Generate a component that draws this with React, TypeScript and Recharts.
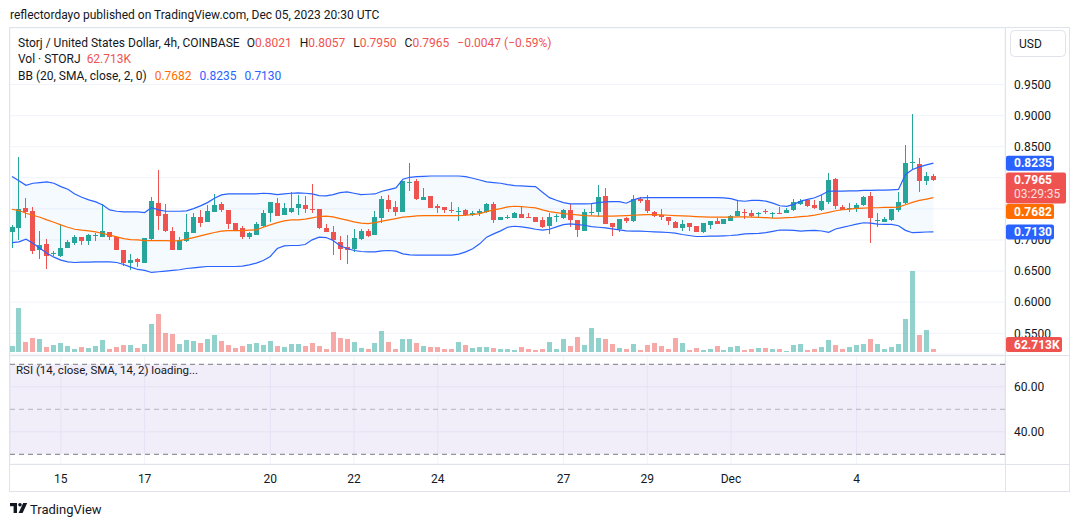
import React from 'react';
import {
  ComposedChart,
  Bar,
  Line,
  Area,
  XAxis,
  YAxis,
  CartesianGrid,
  ReferenceLine,
  ReferenceArea,
} from 'recharts';

// STORJ/USD 4h candles, Nov 13 20:00 -> Dec 05 20:00 (UTC), one entry per candle
const opens = [
  0.7136, 0.7200, 0.7516, 0.7473, 0.6842, 0.6938, 0.6783, 0.6740, 0.6879, 0.6959,
  0.7040, 0.6986, 0.7072, 0.7050, 0.7125, 0.7056, 0.6842, 0.6638, 0.6702, 0.6638,
  0.7018, 0.7596, 0.7419, 0.7146, 0.6842, 0.6991, 0.7120, 0.7371, 0.7296, 0.7457,
  0.7580, 0.7484, 0.7275, 0.7189, 0.7056, 0.7088, 0.7227, 0.7441, 0.7596, 0.7403,
  0.7446, 0.7516, 0.7569, 0.7500, 0.7494, 0.7195, 0.7130, 0.6964, 0.6890, 0.6858,
  0.7023, 0.7146, 0.7088, 0.7355, 0.7644, 0.7532, 0.7457, 0.7922, 0.7949, 0.7649,
  0.7708, 0.7548, 0.7526, 0.7484, 0.7457, 0.7478, 0.7398, 0.7430, 0.7446, 0.7580,
  0.7328, 0.7350, 0.7360, 0.7419, 0.7371, 0.7371, 0.7323, 0.7221, 0.7376, 0.7360,
  0.7484, 0.7323, 0.7152, 0.7441, 0.7451, 0.7708, 0.7275, 0.7184, 0.7355, 0.7307,
  0.7665, 0.7644, 0.7457, 0.7403, 0.7366, 0.7296, 0.7200, 0.7270, 0.7227, 0.7130,
  0.7243, 0.7307, 0.7264, 0.7307, 0.7387, 0.7451, 0.7430, 0.7416, 0.7459, 0.7422,
  0.7438, 0.7432, 0.7475, 0.7577, 0.7646, 0.7556, 0.7486, 0.7609, 0.7973, 0.7523,
  0.7507, 0.7513, 0.7556, 0.7700, 0.7309, 0.7288, 0.7315, 0.7475, 0.7588, 0.8235,
  0.8214, 0.7941, 0.8021,
];

const highs = [
  0.7243, 0.8340, 0.7670, 0.7537, 0.7146, 0.7018, 0.6825, 0.7253, 0.7000, 0.7082,
  0.7050, 0.7093, 0.7120, 0.7574, 0.7130, 0.7066, 0.6845, 0.6777, 0.6713, 0.7034,
  0.7687, 0.8125, 0.7580, 0.7205, 0.7045, 0.7419, 0.7430, 0.7478, 0.7564, 0.7740,
  0.7617, 0.7486, 0.7278, 0.7227, 0.7125, 0.7296, 0.7484, 0.7617, 0.7676, 0.7596,
  0.7767, 0.7724, 0.7708, 0.7901, 0.7497, 0.7259, 0.7221, 0.7066, 0.7082, 0.7173,
  0.7173, 0.7173, 0.7473, 0.7713, 0.7724, 0.7623, 0.7949, 0.8238, 0.7986, 0.7831,
  0.7713, 0.7574, 0.7528, 0.7612, 0.7532, 0.7494, 0.7473, 0.7505, 0.7601, 0.7612,
  0.7373, 0.7403, 0.7451, 0.7526, 0.7435, 0.7373, 0.7366, 0.7441, 0.7414, 0.7494,
  0.7574, 0.7325, 0.7494, 0.7580, 0.7885, 0.7831, 0.7277, 0.7339, 0.7376, 0.7724,
  0.7692, 0.7724, 0.7473, 0.7500, 0.7368, 0.7307, 0.7323, 0.7272, 0.7229, 0.7280,
  0.7307, 0.7350, 0.7339, 0.7403, 0.7644, 0.7505, 0.7486, 0.7449, 0.7491, 0.7449,
  0.7529, 0.7507, 0.7657, 0.7663, 0.7657, 0.7646, 0.7727, 0.8074, 0.7989, 0.7556,
  0.7598, 0.7593, 0.7700, 0.7764, 0.7438, 0.7374, 0.7491, 0.7764, 0.8519, 0.9032,
  0.8326, 0.8085, 0.8057,
];

const lows = [
  0.6868, 0.7000, 0.7350, 0.6777, 0.6697, 0.6537, 0.6735, 0.6724, 0.6868, 0.6927,
  0.6922, 0.6922, 0.6980, 0.7045, 0.7000, 0.6842, 0.6574, 0.6510, 0.6558, 0.6628,
  0.7000, 0.7163, 0.7136, 0.6831, 0.6831, 0.6975, 0.7109, 0.7216, 0.7291, 0.7451,
  0.7457, 0.7173, 0.7163, 0.7013, 0.7023, 0.7082, 0.7205, 0.7291, 0.7387, 0.7398,
  0.7430, 0.7403, 0.7441, 0.7430, 0.7184, 0.7125, 0.6761, 0.6681, 0.6617, 0.6799,
  0.6997, 0.7040, 0.7082, 0.7280, 0.7457, 0.7393, 0.7451, 0.7794, 0.7644, 0.7644,
  0.7510, 0.7430, 0.7430, 0.7441, 0.7312, 0.7387, 0.7387, 0.7380, 0.7441, 0.7280,
  0.7325, 0.7339, 0.7355, 0.7355, 0.7355, 0.7291, 0.7195, 0.7104, 0.7296, 0.7344,
  0.7216, 0.7056, 0.7146, 0.7403, 0.7376, 0.7259, 0.7072, 0.7136, 0.7270, 0.7291,
  0.7601, 0.7430, 0.7371, 0.7323, 0.7248, 0.7189, 0.7152, 0.7152, 0.7130, 0.7120,
  0.7184, 0.7259, 0.7259, 0.7302, 0.7382, 0.7344, 0.7374, 0.7358, 0.7411, 0.7358,
  0.7411, 0.7427, 0.7459, 0.7561, 0.7534, 0.7502, 0.7465, 0.7572, 0.7502, 0.7475,
  0.7443, 0.7449, 0.7550, 0.6951, 0.7208, 0.7283, 0.7313, 0.7443, 0.7582, 0.8133,
  0.7764, 0.7882, 0.7950,
];

const closes = [
  0.7205, 0.7494, 0.7451, 0.6830, 0.6916, 0.6745, 0.6793, 0.6879, 0.6970, 0.7050,
  0.6991, 0.7077, 0.7082, 0.7146, 0.7045, 0.6847, 0.6638, 0.6681, 0.6654, 0.7034,
  0.7628, 0.7387, 0.7152, 0.6842, 0.7000, 0.7130, 0.7371, 0.7280, 0.7467, 0.7564,
  0.7484, 0.7264, 0.7168, 0.7056, 0.7109, 0.7259, 0.7435, 0.7612, 0.7393, 0.7516,
  0.7516, 0.7580, 0.7500, 0.7489, 0.7200, 0.7130, 0.7007, 0.6863, 0.6847, 0.7034,
  0.7146, 0.7066, 0.7371, 0.7660, 0.7500, 0.7451, 0.7949, 0.7933, 0.7660, 0.7692,
  0.7521, 0.7521, 0.7484, 0.7473, 0.7467, 0.7398, 0.7441, 0.7473, 0.7580, 0.7328,
  0.7371, 0.7376, 0.7435, 0.7360, 0.7360, 0.7296, 0.7211, 0.7371, 0.7387, 0.7484,
  0.7323, 0.7163, 0.7451, 0.7451, 0.7692, 0.7264, 0.7205, 0.7339, 0.7307, 0.7660,
  0.7628, 0.7473, 0.7393, 0.7366, 0.7312, 0.7200, 0.7259, 0.7211, 0.7136, 0.7270,
  0.7302, 0.7264, 0.7339, 0.7387, 0.7467, 0.7430, 0.7380, 0.7427, 0.7443, 0.7432,
  0.7427, 0.7475, 0.7604, 0.7620, 0.7539, 0.7513, 0.7620, 0.7957, 0.7539, 0.7486,
  0.7518, 0.7556, 0.7684, 0.7352, 0.7320, 0.7331, 0.7491, 0.7604, 0.8230, 0.8246,
  0.7946, 0.8021, 0.7965,
];

// Volume in thousands of STORJ
const volumes = [
  125, 920, 209, 293, 272, 105, 146, 188, 125, 63,
  105, 84, 125, 251, 63, 105, 146, 146, 84, 167,
  585, 794, 397, 376, 167, 251, 230, 188, 272, 355,
  230, 146, 84, 125, 167, 188, 146, 230, 125, 105,
  167, 167, 125, 188, 125, 63, 418, 293, 272, 209,
  84, 63, 188, 439, 209, 63, 272, 272, 188, 125,
  105, 105, 63, 63, 209, 146, 84, 105, 105, 84,
  63, 63, 42, 105, 63, 42, 63, 209, 63, 272,
  125, 314, 146, 502, 293, 272, 167, 84, 63, 167,
  42, 146, 188, 125, 63, 293, 188, 42, 84, 42,
  63, 125, 42, 105, 125, 42, 63, 84, 84, 63,
  63, 21, 146, 167, 42, 63, 105, 251, 146, 63,
  105, 146, 167, 272, 167, 63, 105, 167, 690, 1693,
  355, 460, 62.713,
];

// Bollinger Bands (20, SMA, close, 2)
const bbUpper = [
  0.8019, 0.7954, 0.7879, 0.7912, 0.7922, 0.7933, 0.7912, 0.7858, 0.7815, 0.7740,
  0.7687, 0.7644, 0.7612, 0.7564, 0.7484, 0.7462, 0.7451, 0.7451, 0.7451, 0.7441,
  0.7521, 0.7484, 0.7462, 0.7462, 0.7462, 0.7468, 0.7505, 0.7548, 0.7601, 0.7671,
  0.7724, 0.7740, 0.7740, 0.7740, 0.7740, 0.7740, 0.7751, 0.7746, 0.7730, 0.7740,
  0.7751, 0.7756, 0.7751, 0.7740, 0.7714, 0.7708, 0.7730, 0.7762, 0.7772, 0.7751,
  0.7730, 0.7735, 0.7740, 0.7783, 0.7810, 0.7837, 0.7976, 0.8008, 0.8019, 0.8024,
  0.8029, 0.8029, 0.8029, 0.8029, 0.8029, 0.8019, 0.7992, 0.7965, 0.7933, 0.7922,
  0.7912, 0.7890, 0.7874, 0.7869, 0.7863, 0.7858, 0.7767, 0.7681, 0.7639, 0.7601,
  0.7580, 0.7580, 0.7580, 0.7585, 0.7601, 0.7612, 0.7617, 0.7617, 0.7591, 0.7644,
  0.7676, 0.7681, 0.7681, 0.7681, 0.7681, 0.7681, 0.7681, 0.7681, 0.7681, 0.7681,
  0.7681, 0.7681, 0.7676, 0.7665, 0.7633, 0.7623, 0.7636, 0.7636, 0.7625, 0.7593,
  0.7550, 0.7540, 0.7572, 0.7625, 0.7652, 0.7679, 0.7727, 0.7786, 0.7786, 0.7786,
  0.7791, 0.7791, 0.7797, 0.7797, 0.7802, 0.7802, 0.7807, 0.7813, 0.8053, 0.8133,
  0.8176, 0.8208, 0.8235,
];

const bbBasis = [
  0.7494, 0.7473, 0.7430, 0.7398, 0.7366, 0.7323, 0.7286, 0.7243, 0.7205, 0.7173,
  0.7157, 0.7146, 0.7130, 0.7104, 0.7077, 0.7050, 0.7023, 0.7007, 0.7002, 0.6991,
  0.6991, 0.6991, 0.6991, 0.6986, 0.6991, 0.7013, 0.7039, 0.7066, 0.7093, 0.7120,
  0.7141, 0.7152, 0.7152, 0.7152, 0.7157, 0.7163, 0.7205, 0.7243, 0.7280, 0.7307,
  0.7323, 0.7323, 0.7334, 0.7355, 0.7377, 0.7382, 0.7371, 0.7344, 0.7318, 0.7291,
  0.7270, 0.7264, 0.7280, 0.7302, 0.7323, 0.7344, 0.7366, 0.7377, 0.7387, 0.7393,
  0.7393, 0.7393, 0.7393, 0.7393, 0.7393, 0.7398, 0.7409, 0.7425, 0.7457, 0.7484,
  0.7505, 0.7532, 0.7542, 0.7537, 0.7526, 0.7516, 0.7484, 0.7457, 0.7441, 0.7425,
  0.7414, 0.7403, 0.7393, 0.7387, 0.7382, 0.7382, 0.7382, 0.7387, 0.7393, 0.7398,
  0.7403, 0.7409, 0.7409, 0.7403, 0.7398, 0.7393, 0.7387, 0.7382, 0.7377, 0.7371,
  0.7366, 0.7366, 0.7366, 0.7366, 0.7371, 0.7371, 0.7369, 0.7363, 0.7358, 0.7352,
  0.7352, 0.7358, 0.7363, 0.7374, 0.7385, 0.7401, 0.7422, 0.7443, 0.7470, 0.7486,
  0.7497, 0.7508, 0.7513, 0.7518, 0.7518, 0.7524, 0.7524, 0.7529, 0.7566, 0.7604,
  0.7636, 0.7657, 0.7682,
];

const bbLower = [
  0.6959, 0.6970, 0.7013, 0.6949, 0.6868, 0.6788, 0.6724, 0.6676, 0.6649, 0.6638,
  0.6644, 0.6644, 0.6649, 0.6649, 0.6649, 0.6638, 0.6606, 0.6563, 0.6526, 0.6510,
  0.6478, 0.6489, 0.6499, 0.6510, 0.6521, 0.6542, 0.6553, 0.6563, 0.6574, 0.6574,
  0.6574, 0.6574, 0.6574, 0.6580, 0.6601, 0.6628, 0.6670, 0.6735, 0.6863, 0.6906,
  0.6911, 0.6911, 0.6927, 0.7002, 0.7045, 0.7039, 0.6991, 0.6906, 0.6863, 0.6831,
  0.6815, 0.6809, 0.6809, 0.6825, 0.6831, 0.6820, 0.6777, 0.6761, 0.6756, 0.6756,
  0.6756, 0.6756, 0.6756, 0.6756, 0.6772, 0.6809, 0.6858, 0.6938, 0.7045, 0.7098,
  0.7146, 0.7205, 0.7221, 0.7211, 0.7195, 0.7173, 0.7157, 0.7173, 0.7211, 0.7248,
  0.7259, 0.7248, 0.7237, 0.7216, 0.7205, 0.7195, 0.7179, 0.7163, 0.7146, 0.7141,
  0.7141, 0.7136, 0.7130, 0.7125, 0.7120, 0.7109, 0.7088, 0.7072, 0.7056, 0.7056,
  0.7061, 0.7061, 0.7066, 0.7072, 0.7082, 0.7098, 0.7101, 0.7106, 0.7117, 0.7138,
  0.7160, 0.7160, 0.7155, 0.7144, 0.7149, 0.7155, 0.7144, 0.7122, 0.7176, 0.7203,
  0.7229, 0.7256, 0.7277, 0.7272, 0.7256, 0.7251, 0.7251, 0.7229, 0.7155, 0.7117,
  0.7122, 0.7128, 0.7130,
];

// Candle indices falling on midnight of a labelled day, and their labels
const dayTicks = [7, 19, 37, 49, 61, 79, 91, 103, 121];
const dayLabels = ['15', '17', '20', '22', '24', '27', '29', 'Dec', '4'];

// Price scale levels (grid at all of them); labels hidden behind the last-value tags are left blank
const priceTicks = [0.55, 0.6, 0.65, 0.7, 0.75, 0.8, 0.85, 0.9, 0.95];
const coveredPriceLabels = [0.75, 0.8];
const rsiTicks = [40, 60];
const rsiBands = [70, 50, 30];

const lastBar = { open: 0.8021, high: 0.8057, low: 0.795, close: 0.7965, change: -0.0047, changePct: -0.59, volume: '62.713K' };
const bbLast = { basis: 0.7682, upper: 0.8235, lower: 0.713 };

const UP = '#26a69a';
const DOWN = '#ef5350';
const UP_VOL = 'rgba(38,166,154,0.5)';
const DOWN_VOL = 'rgba(239,83,80,0.5)';
const BLUE = '#2962ff';
const ORANGE = '#ff6d00';
const TEXT = '#131722';
const GRID = '#f0f3fa';
const BORDER = '#e0e3eb';
const FONT = 'Roboto, "Liberation Sans", sans-serif';

const X_DOMAIN: [number, number] = [-0.287, 142.26];
const P_DOMAIN: [number, number] = [0.5167, 1.0408];
const V_DOMAIN: [number, number] = [-41.8, 6771.6];
const RSI_DOMAIN: [number, number] = [25.69, 73.69];

const rows = opens.map((open, i) => ({
  i,
  open,
  high: highs[i],
  low: lows[i],
  close: closes[i],
  volume: volumes[i],
  bbUpper: bbUpper[i],
  bbBasis: bbBasis[i],
  bbLower: bbLower[i],
}));

function Candle(props: any) {
  const { x, y, width, height, payload } = props;
  if (!payload) return null;
  const { open, high, low, close } = payload;
  const top = Math.min(y, y + height);
  const bottom = Math.max(y, y + height);
  const k = (bottom - top) / (high - low || 1);
  const yOf = (v: number) => top + (high - v) * k;
  const color = close >= open ? UP : DOWN;
  const left = Math.round(x + width / 2 - 2.5);
  const bTop = Math.round(yOf(Math.max(open, close)));
  const bBot = Math.round(yOf(Math.min(open, close)));
  return (
    <g>
      <line x1={left + 2.5} x2={left + 2.5} y1={Math.round(top)} y2={Math.round(bottom)} stroke={color} strokeWidth={1} />
      <rect x={left} y={bTop} width={5} height={Math.max(1, bBot - bTop)} fill={color} />
    </g>
  );
}

function VolumeBar(props: any) {
  const { x, y, width, height, payload } = props;
  if (!payload) return null;
  const left = Math.round(x + width / 2 - 2.5);
  const top = Math.round(Math.min(y, y + height));
  const bottom = Math.round(Math.max(y, y + height));
  return <rect x={left} y={top} width={5} height={Math.max(1, bottom - top)} fill={payload.close >= payload.open ? UP_VOL : DOWN_VOL} />;
}

// Coloured value tag sitting on the price scale
function AxisTag(props: any) {
  const { viewBox, text, sub, fill, shift = 0, w = 48, maxBottom } = props;
  if (!viewBox) return null;
  const x0 = viewBox.x + viewBox.width + 1;
  let cy = viewBox.y + shift;
  const h = sub ? 31 : 15;
  if (maxBottom !== undefined && cy + 7.5 > maxBottom) cy = maxBottom - 7.5;
  const top = cy - 7.5;
  return (
    <g>
      <rect x={x0} y={top} width={w} height={h} rx={2} fill={fill} />
      <text x={x0 + 8} y={cy} dy="0.36em" fill="#fff" fontSize={12} fontWeight={700} fontFamily={FONT}>
        {text}
      </text>
      {sub ? (
        <text x={x0 + 8} y={cy + 14} dy="0.36em" fill="rgba(255,255,255,0.82)" fontSize={12} fontFamily={FONT}>
          {sub}
        </text>
      ) : null}
    </g>
  );
}

const fmt4 = (v: number) => v.toFixed(4);
const priceLabel = (v: number) => (coveredPriceLabels.some((c) => Math.abs(c - v) < 1e-9) ? '' : fmt4(v));

function Legend() {
  const red = { color: DOWN };
  const gap = { marginLeft: 8 };
  const line = { position: 'absolute' as const, left: 18, height: 16, lineHeight: '16px', fontSize: 12, color: TEXT, whiteSpace: 'nowrap' as const };
  return (
    <>
      <div style={{ ...line, left: 10, top: 7 }}>reflectordayo published on TradingView.com, Dec 05, 2023 20:30 UTC</div>
      <div style={{ ...line, top: 35 }}>
        <span>Storj / United States Dollar, 4h, COINBASE</span>
        <span style={{ marginLeft: 7 }}>O<span style={red}>{fmt4(lastBar.open)}</span></span>
        <span style={gap}>H<span style={red}>{fmt4(lastBar.high)}</span></span>
        <span style={gap}>L<span style={red}>{fmt4(lastBar.low)}</span></span>
        <span style={gap}>C<span style={red}>{fmt4(lastBar.close)}</span></span>
        <span style={{ ...gap, ...red }}>
          {'\u2212' + Math.abs(lastBar.change).toFixed(4)} ({'\u2212' + Math.abs(lastBar.changePct).toFixed(2)}%)
        </span>
      </div>
      <div style={{ ...line, top: 51 }}>
        <span>Vol · STORJ</span>
        <span style={{ marginLeft: 6, color: DOWN }}>{lastBar.volume}</span>
      </div>
      <div style={{ ...line, top: 68 }}>
        <span>BB (20, SMA, close, 2, 0)</span>
        <span style={{ ...gap, color: ORANGE }}>{fmt4(bbLast.basis)}</span>
        <span style={{ ...gap, color: BLUE }}>{fmt4(bbLast.upper)}</span>
        <span style={{ ...gap, color: BLUE }}>{fmt4(bbLast.lower)}</span>
      </div>
      <div style={{ ...line, left: 16, top: 362, fontSize: 11.5 }}>RSI (14, close, SMA, 14, 2) loading...</div>
    </>
  );
}

function Frame() {
  return (
    <svg width={1080} height={527} style={{ position: 'absolute', left: 0, top: 0, pointerEvents: 'none' }}>
      <rect x={9.5} y={27.5} width={1060} height={464} fill="none" stroke={BORDER} />
      <line x1={1005.5} x2={1005.5} y1={27.5} y2={491.5} stroke={BORDER} />
      <line x1={9.5} x2={1069.5} y1={355.5} y2={355.5} stroke={BORDER} />
      <line x1={9.5} x2={1069.5} y1={464.5} y2={464.5} stroke={BORDER} />
      <rect x={1010.5} y={30.5} width={55} height={26} rx={4} fill="#fff" stroke={BORDER} />
      <text x={1019} y={44} dy="0.36em" fontSize={12} fill={TEXT} fontFamily={FONT}>USD</text>
      <g transform="translate(10,503)" fill={TEXT}>
        <rect x={0} y={0} width={7} height={3.2} />
        <rect x={3.6} y={0} width={3.4} height={10} />
        <circle cx={10} cy={1.8} r={1.8} />
        <polygon points="13.2,0 17.2,0 12.6,10 8.6,10" />
      </g>
      <text x={30} y={509} dy="0.36em" fontSize={13} fill={TEXT} fontFamily={FONT}>TradingView</text>
    </svg>
  );
}

export default function App() {
  return (
    <div style={{ position: 'absolute', left: 0, top: 0, width: 1080, height: 527, background: '#fff', overflow: 'hidden', fontFamily: FONT }}>
      {/* price pane with Bollinger Bands and volume overlay */}
      <div style={{ position: 'absolute', left: 0, top: 0 }}>
        <ComposedChart width={1080} height={527} data={rows} margin={{ top: 28, right: 10, bottom: 173, left: 10 }}>
          <CartesianGrid xAxisId="t" yAxisId="p" stroke={GRID} strokeWidth={1} />
          <XAxis xAxisId="t" dataKey="i" type="number" domain={X_DOMAIN} ticks={dayTicks} allowDataOverflow height={0} tick={false} axisLine={false} tickLine={false} interval={0} />
          <XAxis xAxisId="v" dataKey="i" type="number" domain={X_DOMAIN} allowDataOverflow hide />
          <YAxis
            yAxisId="p"
            orientation="right"
            width={65}
            domain={P_DOMAIN}
            ticks={priceTicks}
            interval={0}
            allowDataOverflow
            axisLine={false}
            tickLine={false}
            tickMargin={3}
            tickFormatter={priceLabel}
            tick={{ fontSize: 12, fill: TEXT, fontFamily: FONT }}
          />
          <YAxis yAxisId="v" domain={V_DOMAIN} allowDataOverflow hide />
          <Bar xAxisId="v" yAxisId="v" dataKey="volume" barSize={5} shape={VolumeBar} isAnimationActive={false} />
          <Area
            xAxisId="t"
            yAxisId="p"
            type="linear"
            dataKey={(d: any) => [d.bbLower, d.bbUpper]}
            stroke="none"
            fill="rgba(33,150,243,0.05)"
            fillOpacity={1}
            dot={false}
            activeDot={false}
            isAnimationActive={false}
          />
          <Line xAxisId="t" yAxisId="p" type="linear" dataKey="bbBasis" stroke={ORANGE} strokeWidth={1.2} dot={false} activeDot={false} isAnimationActive={false} />
          <Line xAxisId="t" yAxisId="p" type="linear" dataKey="bbUpper" stroke={BLUE} strokeWidth={1.2} dot={false} activeDot={false} isAnimationActive={false} />
          <Line xAxisId="t" yAxisId="p" type="linear" dataKey="bbLower" stroke={BLUE} strokeWidth={1.2} dot={false} activeDot={false} isAnimationActive={false} />
          <Bar xAxisId="t" yAxisId="p" dataKey={(d: any) => [d.low, d.high]} barSize={5} shape={Candle} isAnimationActive={false} />
        </ComposedChart>
      </div>

      {/* RSI pane and time scale */}
      <div style={{ position: 'absolute', left: 0, top: 0 }}>
        <ComposedChart width={1080} height={527} data={rows} margin={{ top: 356, right: 10, bottom: 36, left: 10 }}>
          <ReferenceArea y1={30} y2={70} fill="rgba(126,87,194,0.1)" fillOpacity={1} stroke="none" />
          <CartesianGrid stroke={GRID} strokeWidth={1} />
          <XAxis
            dataKey="i"
            type="number"
            domain={X_DOMAIN}
            ticks={dayTicks}
            interval={0}
            allowDataOverflow
            height={27}
            axisLine={false}
            tickLine={false}
            tickMargin={4}
            tickFormatter={(v: number) => dayLabels[dayTicks.indexOf(v)] ?? ''}
            tick={{ fontSize: 12, fill: TEXT, fontFamily: FONT }}
          />
          <YAxis
            orientation="right"
            width={65}
            domain={RSI_DOMAIN}
            ticks={rsiTicks}
            interval={0}
            allowDataOverflow
            axisLine={false}
            tickLine={false}
            tickMargin={3}
            tickFormatter={(v: number) => v.toFixed(2)}
            tick={{ fontSize: 12, fill: TEXT, fontFamily: FONT }}
          />
          {rsiBands.map((b) => (
            <ReferenceLine key={b} y={b} stroke={b === 50 ? 'rgba(120,123,134,0.5)' : '#787b86'} strokeDasharray="5 4" strokeWidth={1} />
          ))}
        </ComposedChart>
      </div>

      {/* last-value tags on the price scale, layered above the scale labels */}
      <div style={{ position: 'absolute', left: 0, top: 0, pointerEvents: 'none' }}>
        <ComposedChart width={1080} height={527} data={rows} margin={{ top: 28, right: 75, bottom: 173, left: 10 }}>
          <XAxis xAxisId="t" dataKey="i" type="number" domain={X_DOMAIN} allowDataOverflow hide />
          <YAxis yAxisId="p" domain={P_DOMAIN} allowDataOverflow hide />
          <YAxis yAxisId="v" domain={V_DOMAIN} allowDataOverflow hide />
          <ReferenceLine xAxisId="t" yAxisId="p" y={bbLast.upper} stroke="none" label={<AxisTag text={fmt4(bbLast.upper)} fill={BLUE} />} />
          <ReferenceLine xAxisId="t" yAxisId="p" y={bbLast.lower} stroke="none" label={<AxisTag text={fmt4(bbLast.lower)} fill={BLUE} />} />
          <ReferenceLine xAxisId="t" yAxisId="p" y={bbLast.basis} stroke="none" label={<AxisTag text={fmt4(bbLast.basis)} fill={ORANGE} shift={14} />} />
          <ReferenceLine xAxisId="t" yAxisId="p" y={lastBar.close} stroke="none" label={<AxisTag text={fmt4(lastBar.close)} sub="03:29:35" fill={DOWN} w={60} />} />
          <ReferenceLine xAxisId="t" yAxisId="v" y={volumes[volumes.length - 1]} stroke="none" label={<AxisTag text={lastBar.volume} fill={DOWN} w={56} maxBottom={352} />} />
        </ComposedChart>
      </div>

      <Frame />
      <Legend />
    </div>
  );
}
